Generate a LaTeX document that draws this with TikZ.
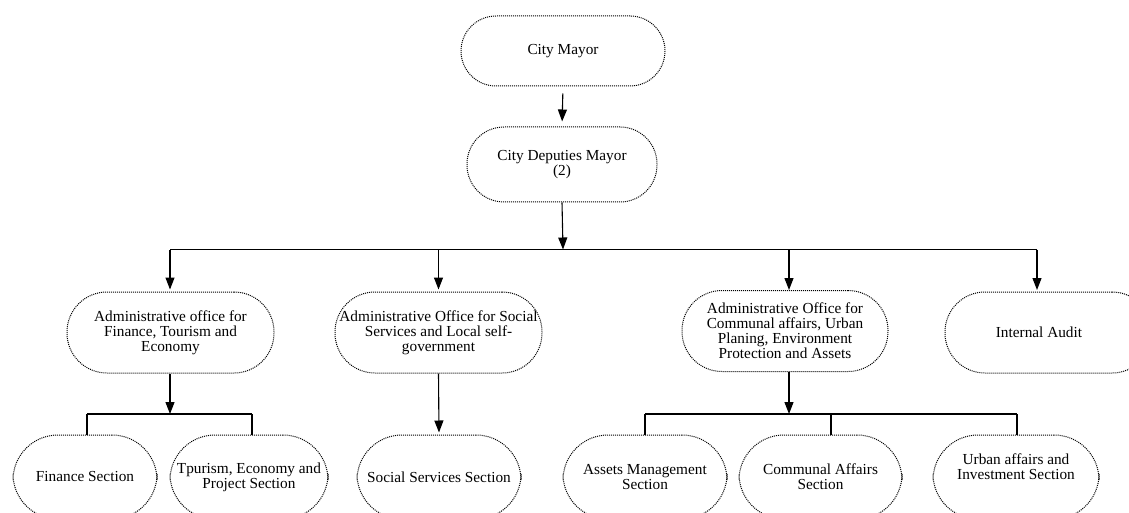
\documentclass[tikz,border=0pt]{standalone}
\usepackage{fontspec}
\setmainfont{Liberation Serif}
\usetikzlibrary{arrows.meta}
\tikzset{
  unit/.style={draw=black, line width=1pt, dash pattern=on 1pt off 1pt,
    rounded corners=#1, inner sep=0pt,
    font=\fontsize{15.3}{15}\selectfont},
  unit/.default=40pt,
  ml/.style={align=center},
  conn/.style={line width=1.1pt, draw=black},
  arr/.style={conn, -{Triangle[length=12pt,width=9pt]}},
}
\begin{document}
\begin{tikzpicture}[x=1pt,y=-1pt]
\clip (0,0) rectangle (1129,513);
\useasboundingbox (0,0) rectangle (1129,513);
% level 0/1
\node[unit=35pt, minimum width=204pt, minimum height=70pt] (mayor) at (563,51) {City Mayor};
\node[unit=37pt, ml, minimum width=190pt, minimum height=75pt, font=\fontsize{15.3}{11}\selectfont] (dep) at (562,164.5) {City Deputies Mayor\\(2)};
% level 2
\node[unit, ml, minimum width=207pt, minimum height=81pt] (fin) at (170.5,332.5) {Administrative office for\\Finance, Tourism and\\Economy};
\node[unit, ml, minimum width=207pt, minimum height=81pt] (soc) at (438.5,332.5) {Administrative Office for Social\\Services and Local self-\\government};
\node[unit, ml, minimum width=206pt, minimum height=81pt] (com) at (785,331) {Administrative Office for\\Communal affairs, Urban\\Planing, Environment\\Protection and Assets};
\node[unit, minimum width=207pt, minimum height=81pt] (aud) at (1048.5,332.5) {Internal Audit\hspace*{19pt}};
% level 3
\node[unit=45pt, minimum width=144pt, minimum height=84pt] (finsec) at (85,477) {Finance Section};
\node[unit=45pt, ml, minimum width=158pt, minimum height=84pt] (tour) at (249,477) {Tpurism, Economy and\\Project Section};
\node[unit=45pt, minimum width=164pt, minimum height=84pt] (socsec) at (439,477) {Social Services Section};
\node[unit=45pt, ml, minimum width=164pt, minimum height=84pt] (asset) at (645,477) {Assets Management\\Section};
\node[unit=45pt, ml, minimum width=163pt, minimum height=84pt] (comsec) at (820.5,477) {Communal Affairs\\Section};
\node[unit=45pt, minimum width=166pt, minimum height=84pt] (urban) at (1016,477) {\begin{tabular}{@{}c@{}}Urban affairs and\\Investment Section\\[16pt]\end{tabular}};
% junction coordinates
\coordinate (j1) at (563,249.5);
\coordinate (jfinL) at (170,249.5);
\coordinate (jaud) at (1037,249.5);
\coordinate (h1) at (170,414);
\coordinate (h2) at (789,414);
% connectors
\draw[arr, shorten <=7pt, shorten >=5pt] (mayor.south) -- (dep.north);
\draw[arr] (dep.south) -- (j1);
\draw[conn] (jfinL) -- (jaud);
\draw[arr, shorten >=2pt] (jfinL) -- (fin.north -| jfinL);
\draw[arr, shorten >=2pt] (soc.north |- j1) -- (soc.north);
\draw[arr, shorten >=2pt] (789,249.5) -- (789,292);
\draw[arr, shorten >=2pt] (jaud) -- (1037,292);
% finance subtree
\draw[arr] (fin.south -| h1) -- (h1);
\draw[conn] (87,414) -- (252,414);
\draw[conn] (87,414) -- (87,435);
\draw[conn] (252,414) -- (252,435);
% social subtree
\draw[arr, shorten >=2pt] (soc.south) -- (socsec.north);
% communal subtree
\draw[arr] (com.south -| h2) -- (h2);
\draw[conn] (645,414) -- (1017,414);
\draw[conn] (645,414) -- (645,435);
\draw[conn] (831,414) -- (831,435);
\draw[conn] (1017,414) -- (1017,435);
\end{tikzpicture}
\end{document}
